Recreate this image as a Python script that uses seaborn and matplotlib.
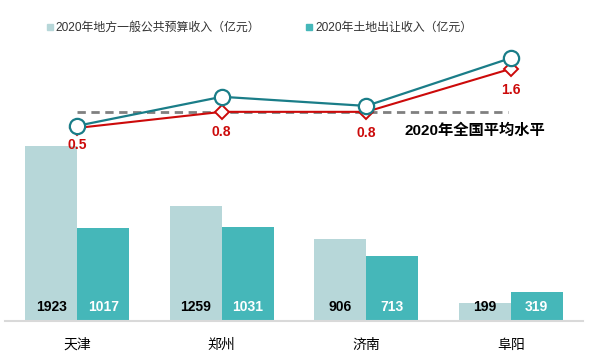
import matplotlib
matplotlib.use("Agg")
import matplotlib.pyplot as plt
from matplotlib.lines import Line2D
import seaborn as sns
import pandas as pd

sns.set_theme(style="white")
plt.rcParams['font.family'] = ['Liberation Sans', 'Noto Sans CJK SC', 'DejaVu Sans']

cities = ["天津", "郑州", "济南", "阜阳"]
budget_income = [1923, 1259, 906, 199]
land_income = [1017, 1031, 713, 319]
ratio_values = [0.5, 0.8, 0.8, 1.6]
ratio_labels = ["0.5", "0.8", "0.8", "1.6"]
circle_values = [0.54, 1.08, 0.91, 1.80]
national_avg = 0.8
series_names = ["2020年地方一般公共预算收入（亿元）", "2020年土地出让收入（亿元）"]
avg_label = "2020年全国平均水平"

light = "#B7D7D9"
teal = "#45B7B9"
line_teal = "#1A7D88"
red = "#CC0A0A"

df = pd.DataFrame({
    "city": cities * 2,
    "value": budget_income + land_income,
    "series": [series_names[0]] * 4 + [series_names[1]] * 4,
})

W, H = 590, 363
fig = plt.figure(figsize=(W / 100, H / 100), dpi=100)
ax = fig.add_axes([5 / W, (H - 321) / H, 578 / W, 321 / H])

sns.barplot(data=df, x="city", y="value", hue="series", order=cities,
            hue_order=series_names, palette=[light, teal], width=0.72,
            ax=ax, legend=False, edgecolor="none", saturation=1)
ax.set_xlim(-0.5, 3.5)
ax.set_ylim(0, 3527)
ax.set_xlabel("")
ax.set_ylabel("")
ax.set_yticks([])
for s in ["top", "right", "left"]:
    ax.spines[s].set_visible(False)
ax.spines["bottom"].set_color("#D9D9D9")
ax.spines["bottom"].set_linewidth(1.5)
ax.tick_params(axis="x", length=0, pad=12, labelsize=10, labelcolor="black")

# bar value labels
for i, cont in enumerate(ax.containers):
    color = "black" if i == 0 else "white"
    for rect in cont:
        ax.text(rect.get_x() + rect.get_width() / 2, 150,
                f"{int(round(rect.get_height()))}", ha="center", va="center",
                fontsize=10, fontweight="bold", color=color)

# secondary axis for ratio lines
ax2 = ax.twinx()
ax2.set_ylim(-3.09, 2.88)
ax2.set_xlim(-0.5, 3.5)
ax2.axis("off")
xs = list(range(len(cities)))
ax2.hlines(national_avg, 0, 2.98, colors="#808080", linestyles=(0, (3, 2)), linewidth=2, zorder=1)
ax2.plot(xs, ratio_values, color=red, lw=1.5, marker="D", markersize=7.5,
         markerfacecolor="white", markeredgecolor=red, markeredgewidth=1.4, zorder=3)
ax2.plot(xs, circle_values, color=line_teal, lw=1.6, marker="o", markersize=11,
         markerfacecolor="white", markeredgecolor=line_teal, markeredgewidth=1.6, zorder=4)
offsets = [-12, -14.5, -15, -15]
for x, v, lab, off in zip(xs, ratio_values, ratio_labels, offsets):
    ax2.annotate(lab, (x, v), xytext=(0, off), textcoords="offset points",
                 ha="center", va="center", color=red, fontsize=10, fontweight="bold")

fig.text(475 / W, 1 - 131 / H, avg_label, ha="center", va="center",
         fontsize=11, fontweight="bold", color="black")

handles = [Line2D([], [], marker="s", linestyle="none", markersize=5,
                  markerfacecolor=c, markeredgecolor=c) for c in [light, teal]]
fig.legend(handles, series_names, loc="center", bbox_to_anchor=(258 / W, 1 - 28 / H),
           ncol=2, frameon=False, fontsize=8.6, handletextpad=0.0, columnspacing=3.6,
           handlelength=1.0, labelcolor="#333333")

fig.savefig("out.png", dpi=100)
